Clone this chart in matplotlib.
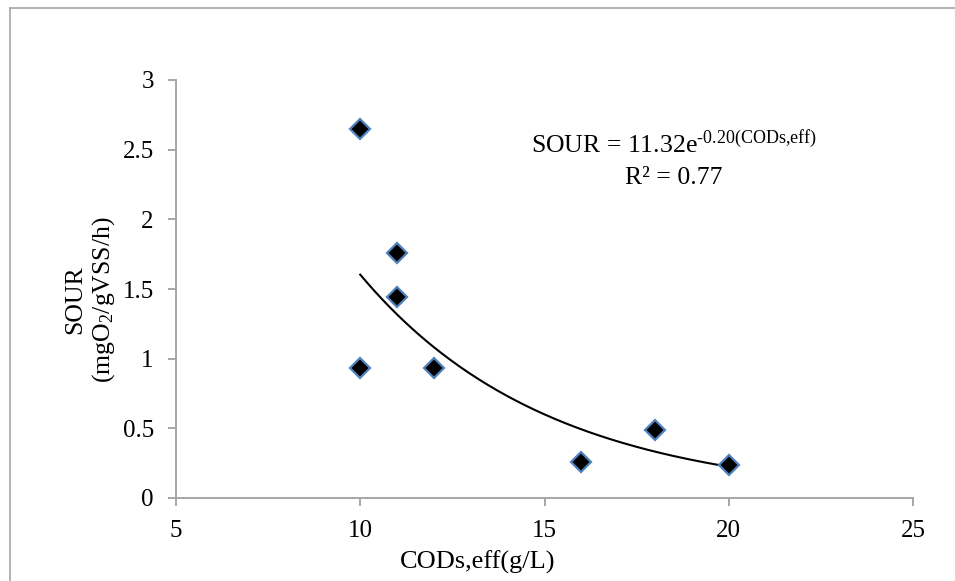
#!/usr/bin/env python3
import numpy as np # fit the trendline
import matplotlib
matplotlib.use("Agg")
import matplotlib.pyplot as plt # draw plots
from matplotlib.lines import Line2D # chart area border

# measured points
cod_eff = [10, 11, 11, 10, 12, 16, 18, 20]
sour = [2.65, 1.76, 1.44, 0.93, 0.93, 0.26, 0.49, 0.24]

x_ticks = [5, 10, 15, 20, 25]
y_ticks = [0, 0.5, 1, 1.5, 2, 2.5, 3]

eq_text = r"SOUR = 11.32e$^{\text{-0.20(CODs,eff)}}$"
r2_text = "R² = 0.77"
x_label = "CODs,eff(g/L)"
y_label = "SOUR\n(mgO$_2$/gVSS/h)"

GRID_GRAY = "#a6a6a6"


def exp_trend(x, y):
    # excel style exponential trendline: linear fit of ln(y)
    b, a = np.polyfit(x, np.log(y), 1)
    xs = np.linspace(min(x), max(x), 200)
    return xs, np.exp(a) * np.exp(b * xs)


def draw_chart(out="out.png"):
    plt.rcParams["font.family"] = ["Liberation Serif", "DejaVu Serif"]
    plt.rcParams["mathtext.fontset"] = "custom"
    plt.rcParams["mathtext.rm"] = "Liberation Serif"
    plt.rcParams["mathtext.it"] = "Liberation Serif:italic"

    fig = plt.figure(figsize=(9.55, 5.81), dpi=100)
    ax = fig.add_axes([176/955, 1-498/581, 737/955, 418/581])

    # trendline then markers
    xs, ys = exp_trend(cod_eff, sour)
    ax.plot(xs, ys, color="black", linewidth=1.5, zorder=2)
    ax.plot(cod_eff, sour, linestyle="none", marker="D", markersize=10,
            markerfacecolor="black", markeredgecolor="#4f81bd",
            markeredgewidth=1.6, zorder=3, clip_on=False)

    ax.set_xlim(5, 25)
    ax.set_ylim(0, 3)
    ax.set_xticks(x_ticks)
    ax.set_yticks(y_ticks)
    ax.set_xticklabels([f"{t:g}" for t in x_ticks])
    ax.set_yticklabels([f"{t:g}" for t in y_ticks])

    for side in ["top", "right"]:
        ax.spines[side].set_visible(False)
    for side in ["left", "bottom"]:
        ax.spines[side].set_color(GRID_GRAY)
        ax.spines[side].set_linewidth(1.4)
    ax.tick_params(axis="both", direction="out", length=6, width=1.4,
                   color=GRID_GRAY, labelsize=18, pad=10)

    # equation of the trendline
    ax.text(0.6757, 0.847, eq_text, transform=ax.transAxes,
            ha="center", va="center", fontsize=18.5)
    ax.text(0.6757, 0.766, r2_text, transform=ax.transAxes,
            ha="center", va="center", fontsize=18.5)

    # axis titles, placed like the spreadsheet did
    fig.text(0.5, 1-562/581, x_label, ha="center", va="center", fontsize=19)
    fig.text(91/955, 1-300/581, y_label, ha="center", va="center",
             rotation=90, multialignment="center", fontsize=18.5)

    # chart area border (runs off the right and bottom edge)
    top_y = 1 - 8/581
    left_x = 10/955
    fig.add_artist(Line2D([left_x, 1.0], [top_y, top_y], color=GRID_GRAY,
                          linewidth=1.2, transform=fig.transFigure))
    fig.add_artist(Line2D([left_x, left_x], [0.0, top_y], color=GRID_GRAY,
                          linewidth=1.2, transform=fig.transFigure))

    fig.savefig(out, dpi=100)


def main():
    draw_chart()


if __name__ == "__main__":
    main()
